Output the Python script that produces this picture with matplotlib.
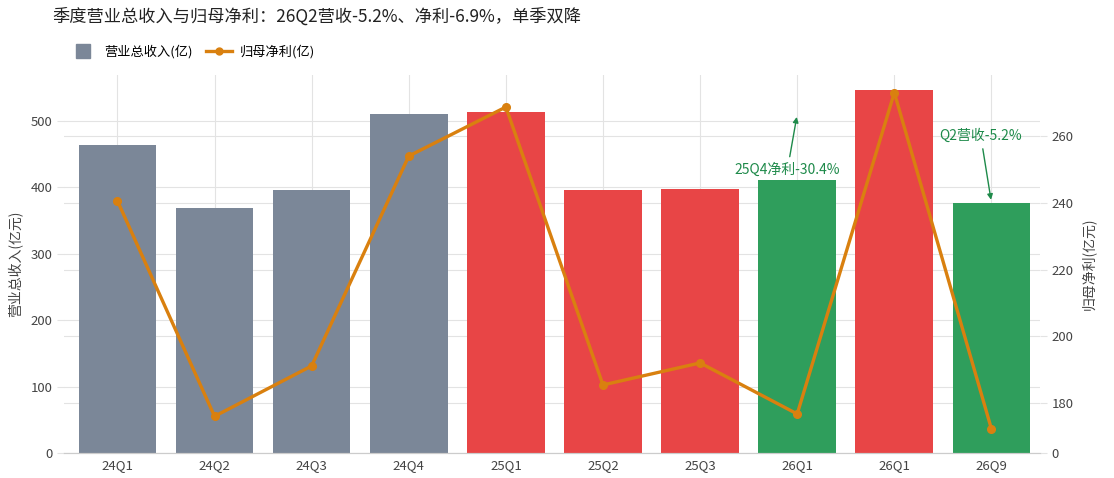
import matplotlib
matplotlib.use("Agg")
import matplotlib.pyplot as plt
from matplotlib.lines import Line2D
from matplotlib.transforms import blended_transform_factory

plt.rcParams['font.family'] = ['Noto Sans CJK SC', 'DejaVu Sans']
plt.rcParams['axes.unicode_minus'] = False

categories = ["24Q1", "24Q2", "24Q3", "24Q4", "25Q1", "25Q2", "25Q3", "26Q1", "26Q1", "26Q9"]
revenue = [464, 369, 396, 510, 514, 396, 398, 411, 547, 376]
net_profit = [240.6, 176.0, 191.1, 254.0, 268.7, 185.4, 192.0, 176.7, 273.0, 172.2]
bar_colors = ["#7b8798", "#7b8798", "#7b8798", "#7b8798",
              "#e84546", "#e84546", "#e84546", "#2f9e5c", "#e84546", "#2f9e5c"]
left_ticks = [0, 100, 200, 300, 400, 500]
right_ticks = [165, 180, 200, 220, 240, 260]
right_tick_labels = ["0", "180", "200", "220", "240", "260"]

W, H = 1114, 478
fig = plt.figure(figsize=(W / 100, H / 100), dpi=100)
ax = fig.add_axes([64 / W, 1 - 453 / H, (1040 - 64) / W, (453 - 75) / H])
ax2 = ax.twinx()

x = list(range(len(categories)))
ax.bar(x, revenue, width=0.8, color=bar_colors, zorder=2)
ax.set_xlim(-0.55, 9.5)
ax.set_ylim(0, 569)
ax.set_yticks(left_ticks)
ax.set_xticks(x)
ax.set_xticklabels(categories)

grid_c = "#e3e3e3"
ax.set_axisbelow(True)
ax.grid(True, axis='both', color=grid_c, linewidth=0.8)

ax2.plot(x, net_profit, color="#d9800f", linewidth=2.4, marker='o', markersize=5.5, zorder=3)
ax2.set_ylim(165, 278.3)
ax2.set_yticks(right_ticks)
ax2.set_yticklabels(right_tick_labels)

# right-axis grid drawn beneath bars
tr = blended_transform_factory(ax.transAxes, ax2.transData)
for v in right_ticks[1:]:
    ax.plot([0, 1], [v, v], transform=tr, color=grid_c, linewidth=0.8, zorder=0.5)

for a in (ax, ax2):
    for s in ("top", "left", "right"):
        a.spines[s].set_visible(False)
    a.spines["bottom"].set_color("#cccccc")
    a.tick_params(axis='y', colors="#444444", labelsize=9.5, length=5, width=0.8)
    a.tick_params(axis='y', color=grid_c)
ax.tick_params(axis='x', length=0, labelsize=9.5, labelcolor="#444444", pad=4)

ax.set_ylabel("营业总收入(亿元)", fontsize=10, color="#444444", labelpad=5)
ax2.set_ylabel("归母净利(亿元)", fontsize=10, color="#444444", labelpad=5)

green = "#1e8a4a"
ax.annotate("25Q4净利-30.4%", xy=(7, 510), xytext=(6.9, 427),
            ha='center', va='center', fontsize=10, color=green,
            arrowprops=dict(arrowstyle='-|>', color=green, lw=1.0, mutation_scale=8))
ax.annotate("Q2营收-5.2%", xy=(9, 377), xytext=(8.89, 477),
            ha='center', va='center', fontsize=10, color=green,
            arrowprops=dict(arrowstyle='-|>', color=green, lw=1.0, mutation_scale=8))

fig.text(52 / W, 1 - 17 / H, "季度营业总收入与归母净利：26Q2营收-5.2%、净利-6.9%，单季双降",
         fontsize=12.4, color="#222222", ha='left', va='center')

handles = [Line2D([], [], marker='s', color="#7b8798", linestyle='None', markersize=10),
           Line2D([], [], marker='o', color="#d9800f", linewidth=2.4, markersize=5)]
fig.legend(handles, ["营业总收入(亿)", "归母净利(亿)"], loc='center left',
           bbox_to_anchor=(58 / W, 1 - 52 / H), ncol=2, frameon=False, fontsize=9.5,
           handlelength=2.0, columnspacing=1.0, handletextpad=0.6)

fig.savefig("out.png", dpi=100)
